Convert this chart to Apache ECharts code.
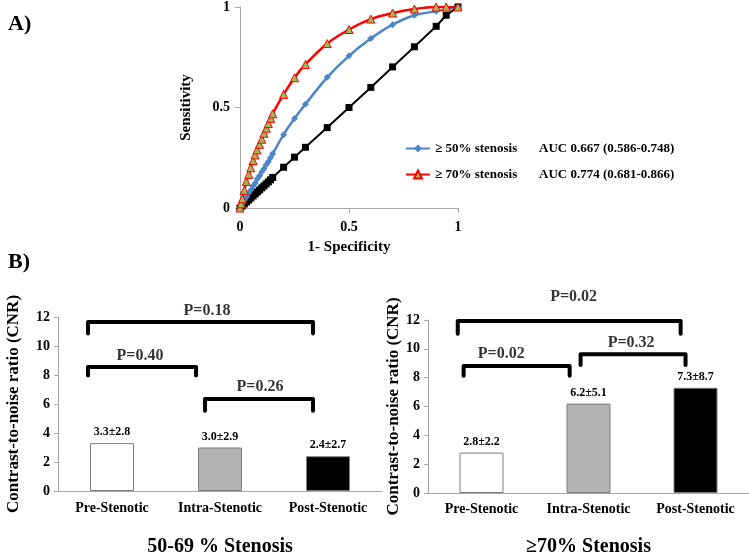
<!DOCTYPE html>
<html>
<head>
<meta charset="utf-8">
<script src="https://cdn.jsdelivr.net/npm/echarts@6/dist/echarts.min.js"></script>
<style>
html, body { margin: 0; padding: 0; background: #fff; }
#main { width: 749px; height: 558px; }
</style>
</head>
<body>
<div id="main"></div>
<script>
// ROC curves (1-specificity, sensitivity)
var refLine = [[0,0],[0.01,0.01],[0.02,0.02],[0.03,0.03],[0.04,0.04],[0.05,0.05],[0.06,0.06],[0.07,0.07],
    [0.08,0.08],[0.09,0.09],[0.1,0.1],[0.11,0.11],[0.12,0.12],[0.13,0.13],[0.14,0.14],[0.15,0.152],
    [0.2,0.203],[0.25,0.253],[0.3,0.302],[0.4,0.4],[0.5,0.5],[0.6,0.6],[0.7,0.702],[0.8,0.802],
    [0.9,0.904],[0.946,0.959],[1,1]];
var roc50 = [[0,0],[0.01,0.02],[0.02,0.04],[0.03,0.055],[0.04,0.075],[0.05,0.09],[0.06,0.11],[0.07,0.125],
    [0.08,0.145],[0.09,0.16],[0.1,0.18],[0.11,0.195],[0.12,0.215],[0.13,0.23],[0.14,0.25],[0.15,0.27],
    [0.2,0.365],[0.25,0.445],[0.3,0.516],[0.4,0.65],[0.5,0.757],[0.6,0.843],[0.7,0.912],[0.8,0.959],
    [0.9,0.979],[1,1]];
var roc70 = [[0,0],[0.005,0.021],[0.011,0.046],[0.02,0.088],[0.029,0.132],[0.04,0.167],[0.049,0.2],
    [0.06,0.236],[0.069,0.264],[0.078,0.289],[0.089,0.317],[0.1,0.342],[0.11,0.372],[0.121,0.397],
    [0.13,0.42],[0.141,0.446],[0.15,0.469],[0.2,0.565],[0.25,0.648],[0.3,0.714],[0.4,0.818],
    [0.5,0.888],[0.6,0.94],[0.7,0.97],[0.8,0.99],[0.9,1],[0.946,1],[1,1]];
var rocNames = ['≥ 50% stenosis', '≥ 70% stenosis'];
var aucText = ['AUC 0.667 (0.586-0.748)', 'AUC 0.774 (0.681-0.866)'];

// CNR bars
var segments = ['Pre-Stenotic', 'Intra-Stenotic', 'Post-Stenotic'];
var cnrMean5069 = [3.3, 3.0, 2.4];
var cnrSd5069 = [2.8, 2.9, 2.7];
var cnrMean70 = [2.8, 6.2, 7.3];
var cnrSd70 = [2.2, 5.1, 8.7];
var barColors = ['#ffffff', '#b3b3b3', '#000000'];

// significance brackets: [x1, x2, yTop, yBottom] on a 0..3 scale, label
var brackets5069 = [[0.278, 2.361, 11.66, 10.86], [0.278, 1.278, 8.56, 7.96], [1.361, 2.361, 6.34, 5.53]];
var pLabels5069 = [[1.38, 12.41, 'P=0.18'], [0.759, 9.31, 'P=0.40'], [1.87, 7.15, 'P=0.26']];
var brackets70 = [[0.278, 2.361, 11.93, 11.05], [0.333, 1.324, 8.81, 8.14], [1.426, 2.407, 9.63, 8.88]];
var pLabels70 = [[1.361, 13.63, 'P=0.02'], [0.685, 9.63, 'P=0.02'], [1.898, 10.44, 'P=0.32']];

var serif = 'Liberation Serif';
var grey = '#a6a6a6';

function bracketSeries(list, xi, yi) {
    return list.map(function (b) {
        return {
            type: 'line', xAxisIndex: xi, yAxisIndex: yi, silent: true, clip: false,
            symbol: 'none', animation: false,
            lineStyle: { color: '#000', width: 4, cap: 'round', join: 'round' },
            data: [[b[0], b[3]], [b[0], b[2]], [b[1], b[2]], [b[1], b[3]]]
        };
    });
}
function pSeries(list, xi, yi) {
    return {
        type: 'scatter', xAxisIndex: xi, yAxisIndex: yi, silent: true, clip: false,
        symbolSize: 1, itemStyle: { color: 'rgba(0,0,0,0)' },
        label: {
            show: true, position: 'inside', color: '#000',
            fontFamily: serif, fontWeight: 'bold', fontSize: 16,
            formatter: function (p) { return p.value[2]; }
        },
        data: list
    };
}
function barSeries(means, sds, gi) {
    return {
        type: 'bar', xAxisIndex: gi, yAxisIndex: gi, barWidth: 44,
        data: means.map(function (v, i) {
            return { value: v, itemStyle: { color: barColors[i], borderColor: '#7f7f7f', borderWidth: 1 } };
        }),
        label: {
            show: true, position: 'top', distance: 5, color: '#000',
            fontFamily: serif, fontWeight: 'bold', fontSize: 12,
            formatter: function (p) { return means[p.dataIndex].toFixed(1) + '±' + sds[p.dataIndex].toFixed(1); }
        }
    };
}

var tickFont = { color: '#000', fontFamily: serif, fontWeight: 'bold', fontSize: 14 };
var nameFont = { color: '#000', fontFamily: serif, fontWeight: 'bold', fontSize: 15 };

var chart = echarts.init(document.getElementById('main'));
var option = {
    backgroundColor: '#fff',
    animation: false,
    title: [
        { text: 'A)', left: 3, top: 8, textStyle: { fontFamily: serif, fontWeight: 'bold', fontSize: 22, color: '#000' } },
        { text: 'B)', left: 3, top: 246, textStyle: { fontFamily: serif, fontWeight: 'bold', fontSize: 22, color: '#000' } }
    ],
    legend: {
        left: 400, top: 137, orient: 'vertical', itemWidth: 24, itemHeight: 10, itemGap: 13,
        data: rocNames,
        formatter: function (name) {
            return '{a|' + name + '}{b|' + aucText[rocNames.indexOf(name)] + '}';
        },
        textStyle: {
            color: '#000', fontFamily: serif, fontWeight: 'bold', fontSize: 13,
            rich: {
                a: { width: 104, fontFamily: serif, fontWeight: 'bold', fontSize: 13 },
                b: { fontFamily: serif, fontWeight: 'bold', fontSize: 13 }
            }
        }
    },
    grid: [
        { left: 240, top: 7, width: 218, height: 201 },
        { left: 58, top: 317, width: 324, height: 178 },
        { left: 428, top: 320, width: 324, height: 177 }
    ],
    xAxis: [
        {
            type: 'value', gridIndex: 0, min: 0, max: 1, interval: 0.5,
            name: '1- Specificity', nameLocation: 'middle', nameGap: 32, nameTextStyle: nameFont,
            axisLine: { lineStyle: { color: grey } }, axisTick: { show: true, lineStyle: { color: grey } },
            splitLine: { show: false }, axisLabel: Object.assign({ margin: 12 }, tickFont)
        },
        {
            type: 'category', gridIndex: 1, data: segments,
            name: '50-69 % Stenosis', nameLocation: 'middle', nameGap: 46,
            nameTextStyle: { color: '#000', fontFamily: serif, fontWeight: 'bold', fontSize: 20 },
            axisLine: { lineStyle: { color: grey } }, axisTick: { length: 4, lineStyle: { color: grey } },
            axisLabel: Object.assign({ margin: 10, interval: 0 }, tickFont)
        },
        {
            type: 'category', gridIndex: 2, data: segments,
            name: '≥70% Stenosis', nameLocation: 'middle', nameGap: 44,
            nameTextStyle: { color: '#000', fontFamily: serif, fontWeight: 'bold', fontSize: 20 },
            axisLine: { lineStyle: { color: grey } }, axisTick: { length: 4, lineStyle: { color: grey } },
            axisLabel: Object.assign({ margin: 9, interval: 0 }, tickFont)
        },
        { type: 'value', gridIndex: 1, min: 0, max: 3, show: false },
        { type: 'value', gridIndex: 2, min: 0, max: 3, show: false }
    ],
    yAxis: [
        {
            type: 'value', gridIndex: 0, min: 0, max: 1, interval: 0.5,
            name: 'Sensitivity', nameLocation: 'middle', nameGap: 46, nameTextStyle: nameFont,
            axisLine: { show: true, lineStyle: { color: grey } }, axisTick: { show: true, lineStyle: { color: grey } },
            splitLine: { show: false }, axisLabel: Object.assign({ margin: 10 }, tickFont)
        },
        {
            type: 'value', gridIndex: 1, min: 0, max: 12, interval: 2,
            name: 'Contrast-to-noise ratio (CNR)', nameLocation: 'middle', nameGap: 36,
            nameTextStyle: { color: '#000', fontFamily: serif, fontWeight: 'bold', fontSize: 17 },
            axisLine: { show: true, lineStyle: { color: grey } }, axisTick: { show: true, length: 4, lineStyle: { color: grey } },
            splitLine: { show: false }, axisLabel: Object.assign({ margin: 8 }, tickFont)
        },
        {
            type: 'value', gridIndex: 2, min: 0, max: 12, interval: 2,
            name: 'Contrast-to-noise ratio (CNR)', nameLocation: 'middle', nameGap: 23,
            nameTextStyle: { color: '#000', fontFamily: serif, fontWeight: 'bold', fontSize: 17 },
            axisLine: { show: true, lineStyle: { color: grey } }, axisTick: { show: true, length: 4, lineStyle: { color: grey } },
            splitLine: { show: false }, axisLabel: Object.assign({ margin: 8 }, tickFont)
        }
    ],
    series: [
        {
            name: 'reference', type: 'line', xAxisIndex: 0, yAxisIndex: 0,
            symbol: 'rect', symbolSize: 7, color: '#000',
            lineStyle: { color: '#000', width: 2 }, data: refLine
        },
        {
            name: rocNames[0], type: 'line', xAxisIndex: 0, yAxisIndex: 0, smooth: 0.3,
            symbol: 'diamond', symbolSize: 7, color: '#4a86c8',
            lineStyle: { color: '#4a86c8', width: 2.5 }, data: roc50
        },
        {
            name: rocNames[1], type: 'line', xAxisIndex: 0, yAxisIndex: 0, smooth: 0.3,
            symbol: 'triangle', symbolSize: 8, color: '#ff0000',
            itemStyle: { color: '#9bbb59', borderColor: '#ff0000', borderWidth: 1 },
            lineStyle: { color: '#ff0000', width: 2.5 }, data: roc70
        },
        barSeries(cnrMean5069, cnrSd5069, 1),
        barSeries(cnrMean70, cnrSd70, 2)
    ]
        .concat(bracketSeries(brackets5069, 3, 1))
        .concat(bracketSeries(brackets70, 4, 2))
        .concat([pSeries(pLabels5069, 3, 1), pSeries(pLabels70, 4, 2)])
};
chart.setOption(option);
</script>
</body>
</html>
